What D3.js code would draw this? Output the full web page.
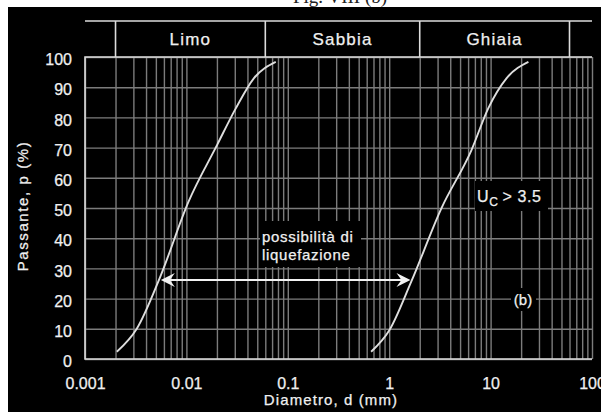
<!DOCTYPE html>
<html lang="it">
<head>
<meta charset="UTF-8">
<script src="https://cdn.jsdelivr.net/npm/d3@7"></script>
<style>
body { margin:0; background:#fff; }
text { font-family: "Liberation Sans", Arial, sans-serif; fill: #f0f0f0; stroke: #f0f0f0; stroke-width: 0.25px; }
.grid line { stroke: #7c7c7c; stroke-width: 1.4px; }
.frame { stroke: #dcdcdc; stroke-width: 1.6px; fill: none; }
</style>
<title>Curva granulometrica</title>
</head>
<body>
<script>
// fuso granulometrico (b) - Uc > 3.5
var fineD = [0.00206, 0.00325, 0.00553, 0.0105, 0.0201, 0.0306, 0.0464, 0.0761];
var fineP = [2.4, 10.1, 27.3, 52.1, 70.9, 82.9, 93.0, 98.4];
var coarseD = [0.663, 1.007, 1.65, 3.27, 6.48, 9.48, 14.4, 23.6];
var coarseP = [2.4, 9.6, 25.6, 49.9, 69.2, 83.0, 93.0, 98.4];

var classBounds = [0.002, 0.06, 2, 60];
var classNames = ["Limo", "Sabbia", "Ghiaia"];

var yTicks = [0, 10, 20, 30, 40, 50, 60, 70, 80, 90, 100];
var xTicks = [0.001, 0.01, 0.1, 1, 10, 100];
var xTickLabels = ["0.001", "0.01", "0.1", "1", "10", "100"];

// freccia "possibilità di liquefazione"
var arrowD = [0.0056, 1.62];
var arrowP = 26.2;

var W = 601, H = 412;
var svg = d3.select("body").append("svg")
    .attr("width", W)
    .attr("height", H);

var x = d3.scaleLog().domain([0.001, 100]).range([85, 592]);
var y = d3.scaleLinear().domain([0, 100]).range([359, 57]);

// title, cut off by the black panel
svg.append("text")
    .attr("x", 340).attr("y", 3)
    .attr("text-anchor", "middle")
    .style("font-family", "'Liberation Serif', 'DejaVu Serif', serif")
    .style("font-size", "19px")
    .style("fill", "#222").style("stroke", "none")
    .text("Fig. VIII (b)");

svg.append("rect")
    .attr("x", 8).attr("y", 7)
    .attr("width", W - 8).attr("height", H - 7)
    .attr("fill", "#000");

// minor grid positions (1..9 per decade)
var minor = [];
xTicks.forEach(function(t, i) {
  if (i < xTicks.length - 1) {
    for (var k = 1; k <= 9; k++) minor.push(t * k);
  } else minor.push(t);
});

var gx = svg.append("g").attr("class", "grid")
    .attr("transform", "translate(0," + y(0) + ")")
    .call(d3.axisBottom(x).tickValues(minor).tickSize(-(y(0) - y(100))).tickFormat(""));
gx.select(".domain").remove();

var gy = svg.append("g").attr("class", "grid")
    .attr("transform", "translate(" + x(0.001) + ",0)")
    .call(d3.axisLeft(y).tickValues(yTicks).tickSize(-(x(100) - x(0.001))).tickFormat(""));
gy.select(".domain").remove();

// frame: left, bottom, top
svg.append("path").attr("class", "frame")
    .attr("d", "M" + x(100) + "," + y(100) + "H" + x(0.001) + "V" + y(0) + "H" + x(100));

// header with soil classes
svg.append("line").attr("class", "frame")
    .attr("x1", x(0.001)).attr("x2", x(100))
    .attr("y1", 21).attr("y2", 21);
svg.selectAll(".sep").data(classBounds).enter().append("line")
    .attr("class", "frame sep")
    .attr("x1", function(d) { return x(d); })
    .attr("x2", function(d) { return x(d); })
    .attr("y1", 21).attr("y2", y(100));
svg.selectAll(".cls").data(classNames).enter().append("text")
    .attr("class", "cls")
    .attr("x", function(d, i) { return (x(classBounds[i]) + x(classBounds[i + 1])) / 2; })
    .attr("y", 45)
    .attr("text-anchor", "middle")
    .style("font-size", "17px")
    .style("letter-spacing", "1.2px")
    .text(function(d) { return d; });

// tick labels
var ax = svg.append("g")
    .attr("transform", "translate(0," + y(0) + ")")
    .call(d3.axisBottom(x).tickValues(xTicks).tickSize(0).tickPadding(19)
      .tickFormat(function(d, i) { return xTickLabels[i]; }));
ax.select(".domain").remove();
ax.selectAll("text").style("font-size", "16px").style("font-family", null).attr("fill", null);

var ay = svg.append("g")
    .attr("transform", "translate(" + x(0.001) + ",0)")
    .call(d3.axisLeft(y).tickValues(yTicks).tickSize(0).tickPadding(13));
ay.select(".domain").remove();
ay.selectAll("text").style("font-size", "16px").style("font-family", null).attr("fill", null).attr("dy", "0.48em");

// axis titles
svg.append("text")
    .attr("x", 331).attr("y", 405)
    .attr("text-anchor", "middle")
    .style("font-size", "15px")
    .style("letter-spacing", "1.1px")
    .text("Diametro, d (mm)");
svg.append("text")
    .attr("transform", "translate(28,206) rotate(-90)")
    .attr("text-anchor", "middle")
    .style("font-size", "15px")
    .style("letter-spacing", "1.6px")
    .text("Passante, p (%)");

// curves
var line = d3.line()
    .x(function(d) { return x(d[0]); })
    .y(function(d) { return y(d[1]); })
    .curve(d3.curveMonotoneX);

[[fineD, fineP], [coarseD, coarseP]].forEach(function(s) {
  svg.append("path")
    .datum(d3.zip(s[0], s[1]))
    .attr("d", line)
    .attr("fill", "none")
    .attr("stroke", "#dedede")
    .attr("stroke-width", 1.9);
});

// labels with black boxes
function boxLabel(bx, by, bw, bh) {
  svg.append("rect").attr("x", bx).attr("y", by).attr("width", bw).attr("height", bh).attr("fill", "#000");
}
boxLabel(260, 221, 101, 46);
svg.append("text").attr("x", 262).attr("y", 242).style("font-size", "15px").style("letter-spacing", "0.7px").text("possibilità di");
svg.append("text").attr("x", 262).attr("y", 260).style("font-size", "15px").style("letter-spacing", "0.7px").text("liquefazione");

boxLabel(475, 181, 73, 30);
var uc = svg.append("text").attr("x", 477).attr("y", 202).style("font-size", "16px").style("letter-spacing", "0.6px");
uc.append("tspan").text("U");
uc.append("tspan").attr("dy", 4).style("font-size", "12px").text("C");
uc.append("tspan").attr("dy", -4).attr("dx", 4).text("> 3.5");

boxLabel(511, 288, 25, 23);
svg.append("text").attr("x", 523).attr("y", 305).attr("text-anchor", "middle")
    .style("font-size", "15px").text("(b)");

// double arrow
var ay0 = y(arrowP), x0 = x(arrowD[0]), x1 = x(arrowD[1]);
svg.append("line")
    .attr("x1", x0 + 6).attr("x2", x1 - 6)
    .attr("y1", ay0).attr("y2", ay0)
    .attr("stroke", "#f2f2f2").attr("stroke-width", 2);
function head(tx, dir) {
  svg.append("path")
    .attr("d", "M" + tx + "," + ay0 +
      "L" + (tx + dir * 14) + "," + (ay0 - 7) +
      "L" + (tx + dir * 9) + "," + ay0 +
      "L" + (tx + dir * 14) + "," + (ay0 + 7) + "Z")
    .attr("fill", "#f2f2f2");
}
head(x0, 1);
head(x1, -1);
</script>
</body>
</html>
